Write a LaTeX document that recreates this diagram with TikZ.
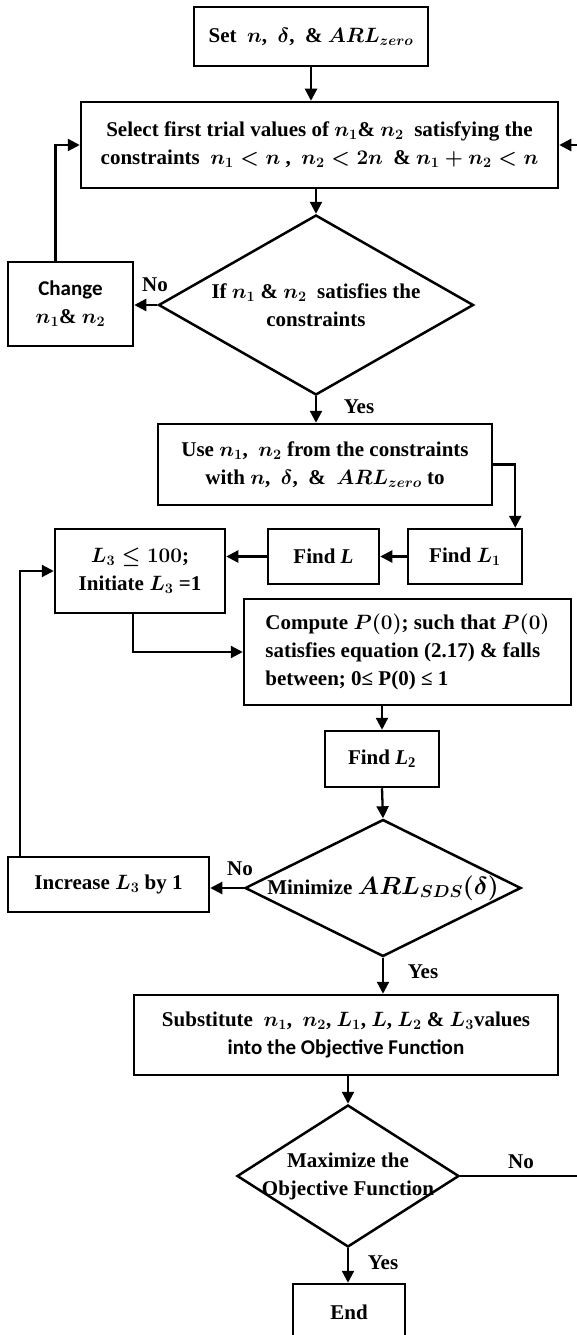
\documentclass[tikz,border=0pt]{standalone}
\usepackage{fontspec}
\setmainfont{Liberation Serif}
\newfontfamily\calfont{Carlito}
\usepackage{amsmath,amssymb}
\usepackage{bm}
\usetikzlibrary{shapes.geometric}
\usetikzlibrary{arrows.meta}

\tikzset{
	box/.style={draw, line width=2.5pt, inner sep=0pt, align=center},
	cond/.style={draw, diamond, line width=2.5pt, inner sep=-14pt, align=center},
	flow/.style={line width=2.3pt, -{Triangle[length=12pt,width=12pt]}},
	tag/.style={inner sep=0pt}
}

\begin{document}
\begin{tikzpicture}[x=1pt, y=-1pt, font=\bfseries\boldmath\fontsize{21}{28}\selectfont]
	\useasboundingbox (0, 0) rectangle (577, 1335);

	\node [box, minimum width=234, minimum height=59] (set) at (311, 36.5) {Set\ \ $\bm{n}$,\ \ $\bm{\delta}$,\ \ \&\ $\bm{ARL_{zero}}$};
	\node [box, minimum width=477, minimum height=86] (select) at (319.5, 145) {Select first trial values of $\bm{n_1}$\&\ $\bm{n_2}$\ \ satisfying the\\constraints\ \ $\bm{n_1<n}$\ ,\ \ $\bm{n_2<2n}$\ \ \&\ $\bm{n_1+n_2<n}$};
	\node [cond, minimum width=315, minimum height=180, aspect=1.75] (chk) at (316, 305) {If $\bm{n_1}$ \& $\bm{n_2}$\ \ satisfies the\\constraints};
	\node [box, minimum width=125, minimum height=84] (change) at (70.5, 304) {{\calfont Change}\\$\bm{n_1}$\& $\bm{n_2}$};
	\node [box, minimum width=334, minimum height=81] (use) at (325, 464.5) {Use $\bm{n_1}$,\ \ $\bm{n_2}$ from the constraints\\with $\bm{n}$,\ \ $\bm{\delta}$,\ \ \&\ \ $\bm{ARL_{zero}}$ to};

	\node [box, minimum width=114, minimum height=55] (findlone) at (465, 556.5) {Find $\bm{L_1}$};
	\node [box, minimum width=111, minimum height=55] (findl) at (323.5, 556.5) {Find \textit{L}};
	\node [box, minimum width=170, minimum height=84] (lthree) at (140, 571) {$\bm{L_3\le 100}$;\\Initiate $\bm{L_3}$ =1};
	\node [box, minimum width=327, minimum height=106, align=left] (compute) at (407.5, 652) {Compute $\bm{P(0)}$; such that $\bm{P(0)}$\\satisfies equation (2.17) \& falls\\between; 0≤ P(0) ≤ 1};
	\node [box, minimum width=114, minimum height=56] (findltwo) at (382, 759) {Find \textit{L}\textsubscript{2}};

	\node [cond, minimum width=276, minimum height=137, aspect=2] (mini) at (383, 888) {Minimize {\fontsize{26}{28}\selectfont$\bm{ARL_{SDS}(\delta)}$}};
	\node [box, minimum width=201, minimum height=55] (incr) at (108.5, 884.5) {Increase $\bm{L_3}$ by 1};
	\node [box, minimum width=424, minimum height=80] (subst) at (346, 1035) {Substitute\ \ $\bm{n_1}$,\ \ $\bm{n_2}$, $\bm{L_1}$, $\bm{L}$, $\bm{L_2}$ \& $\bm{L_3}$values\\{\calfont into the Objective Function}};
	\node [cond, minimum width=222, minimum height=142, aspect=1.56] (maxi) at (348, 1176) {Maximize the\\Objective Function};
	\node [box, minimum width=112, minimum height=56] (endbox) at (349, 1312) {End};

	\coordinate (rgt) at (592, 0);

	\draw [flow] (set.south) -- (set.south |- select.north);
	\draw [flow] (chk.north |- select.south) -- (chk.north);
	\draw [flow] (chk.west) -- (chk.west -| change.east);
	\draw [flow] ([xshift=-15pt]change.north) |- (select.west);
	\draw [flow] (chk.south) -- (chk.south |- use.north);
	\draw [flow] (use.east) -| ([xshift=-8pt]findlone.north east);
	\draw [flow] (findlone.west) -- (findl.east);
	\draw [flow] (findl.west) -- (findl.west -| lthree.east);
	\draw [flow] ([xshift=-7pt]lthree.south) |- (compute.west);
	\draw [flow] (findltwo.north |- compute.south) -- (findltwo.north);
	\draw [flow] (findltwo.south) -- (mini.north);
	\draw [flow] (mini.west) -- (mini.west -| incr.east);
	\draw [flow] ([xshift=13pt]incr.north west) |- (lthree.west);
	\draw [flow] (mini.south) -- (mini.south |- subst.north);
	\draw [flow] (maxi.north |- subst.south) -- (maxi.north);
	\draw [flow] (maxi.south) -- (maxi.south |- endbox.north);
	\draw [flow] (maxi.east) -- (maxi.east -| rgt) -- (select.east -| rgt) -- (select.east);

	\node [tag] (no1) at (155, 285) {No};
	\node [tag] (yes1) at (359, 407) {Yes};
	\node [tag] (no2) at (240, 869) {No};
	\node [tag] (yes2) at (423, 972) {Yes};
	\node [tag] (no3) at (521, 1162) {No};
	\node [tag] (yes3) at (383, 1263) {Yes};
\end{tikzpicture}
\end{document}
